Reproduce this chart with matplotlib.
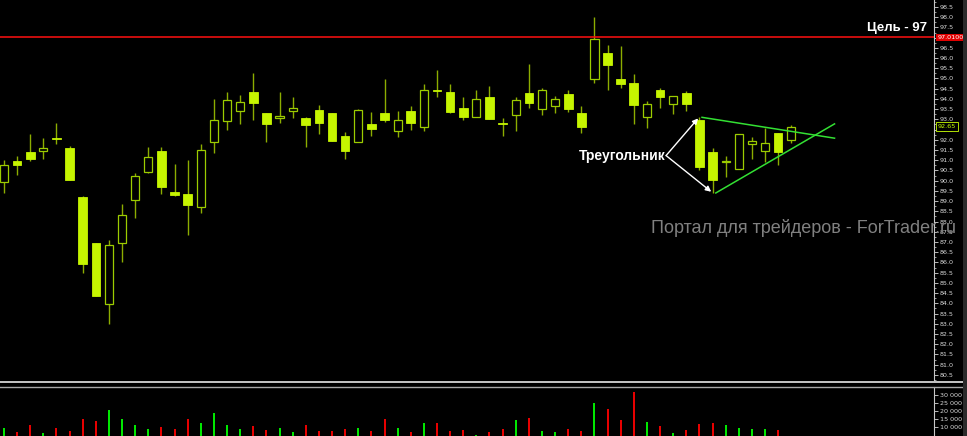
import numpy as np
import matplotlib
matplotlib.use('Agg')
import matplotlib.pyplot as plt
import matplotlib.transforms as mtransforms
from matplotlib.lines import Line2D
from matplotlib.patches import Rectangle
from matplotlib.ticker import MultipleLocator

# OHLC (daily candles)
opens = [89.92, 90.97, 91.42, 91.44, 92.09, 91.60, 89.20, 86.95, 83.96, 86.94,
         89.04, 90.43, 91.46, 89.45, 89.35, 88.73, 91.88, 92.92, 93.43, 94.36,
         93.30, 93.06, 93.43, 93.07, 93.46, 93.31, 92.19, 91.88, 92.78, 93.31,
         92.43, 93.43, 92.64, 94.44, 94.34, 93.56, 93.13, 94.08, 92.81, 93.20,
         94.28, 93.52, 93.64, 94.24, 93.31, 94.96, 96.26, 94.96, 94.77, 93.10,
         94.44, 93.74, 94.29, 92.97, 91.42, 90.92, 90.56, 91.81, 91.44, 92.32, 91.99]
highs = [91.01, 91.20, 92.29, 92.08, 92.83, 91.70, 89.25, 86.97, 87.10, 88.88,
         90.38, 91.65, 91.64, 90.82, 91.01, 91.80, 94.00, 94.34, 94.21, 95.27,
         93.30, 94.36, 94.08, 93.12, 93.71, 93.31, 92.38, 93.51, 93.36, 94.98,
         93.41, 93.66, 94.73, 95.40, 94.72, 94.10, 94.42, 94.64, 93.06, 94.10,
         95.70, 94.52, 94.13, 94.42, 93.66, 98.03, 96.64, 96.59, 95.21, 93.90,
         94.54, 94.13, 94.39, 93.10, 91.59, 91.23, 92.27, 92.15, 92.60, 92.32, 92.73]
lows = [89.39, 90.30, 90.98, 91.08, 91.81, 90.05, 85.47, 84.34, 82.98, 86.03,
        88.19, 90.40, 89.37, 89.27, 87.36, 88.44, 91.37, 92.50, 92.79, 92.97,
        91.91, 92.84, 93.07, 91.67, 92.29, 91.93, 91.08, 91.88, 92.19, 92.86,
        92.14, 92.48, 92.45, 94.11, 93.33, 92.99, 93.13, 93.01, 92.20, 92.43,
        93.57, 93.23, 93.33, 93.36, 92.35, 94.77, 94.44, 94.55, 92.79, 92.57,
        93.57, 93.28, 93.41, 90.53, 89.42, 90.20, 90.56, 91.08, 90.92, 90.76, 91.83]
closes = [90.76, 90.79, 91.08, 91.59, 92.06, 90.05, 85.94, 84.38, 86.84, 88.31,
          90.22, 91.15, 89.68, 89.32, 88.80, 91.50, 92.96, 93.94, 93.85, 93.79,
          92.79, 93.15, 93.54, 92.74, 92.81, 91.93, 91.47, 93.46, 92.52, 92.99,
          92.96, 92.84, 94.42, 94.41, 93.36, 93.13, 93.98, 93.01, 92.78, 93.94,
          93.79, 94.42, 93.98, 93.52, 92.64, 96.92, 95.65, 94.75, 93.72, 93.74,
          94.11, 94.13, 93.77, 90.69, 90.02, 90.95, 92.27, 91.94, 91.86, 91.42, 92.65]
volumes = [9100, 6600, 11000, 5900, 9100, 7200, 14700, 13600, 20400, 14900,
           11000, 8300, 9800, 8500, 14900, 12100, 18700, 11000, 8500, 10400,
           7900, 9100, 6600, 11000, 7200, 7200, 8500, 9100, 7200, 14900,
           9100, 6600, 12300, 12100, 7200, 7900, 4700, 6600, 8500, 14000,
           15500, 7200, 6600, 8500, 7200, 25100, 21300, 14200, 32100, 13000,
           10400, 5900, 7900, 11700, 12300, 11000, 9100, 8500, 8500, 7900, 3000]

target = 97.01
last_price = 92.65

# triangle trend lines (bar index, price)
tri_upper_x = [53.2, 63.3]
tri_upper_y = [93.10, 92.08]
tri_lower_x = [54.25, 63.3]
tri_lower_y = [89.40, 92.78]

price_ticks = np.arange(80.5, 98.51, 0.5)
vol_ticks = [10000, 15000, 20000, 25000, 30000]

o = np.array(opens); h = np.array(highs); l = np.array(lows); c = np.array(closes)
v = np.array(volumes)
x = np.arange(len(c))
up = c >= o

W, H = 967, 436
fig = plt.figure(figsize=(W / 100, H / 100), dpi=100, facecolor='black')
fx = lambda px: px / W
fy = lambda py: 1 - py / H

ax = fig.add_axes([0, fy(380), fx(934), 380 / H], facecolor='black')
axv = fig.add_axes([0, 0, fx(934), (436 - 387) / H], facecolor='black')

# ── candles ──
ax.vlines(x, l, h, colors='#8cad00', linewidth=1.0, zorder=2)
body_lo = np.minimum(o, c)
body_h = np.maximum(np.abs(c - o), 0.005)
ax.bar(x[up], body_h[up], bottom=body_lo[up], width=0.62,
       facecolor='black', edgecolor='#9ccc00', linewidth=0.9, zorder=3)
ax.bar(x[~up], body_h[~up], bottom=body_lo[~up], width=0.66,
       facecolor='#c6f500', edgecolor='#c6f500', linewidth=0.6, zorder=3)

ax.set_xlim(-0.305, 70.88)
ax.set_ylim(80.25, 98.84)

# target line
ax.axhline(target, color='#ff1010', linewidth=1.1, zorder=4)
ax.text(0.993, 97.47, 'Цель - 97', transform=mtransforms.blended_transform_factory(ax.transAxes, ax.transData),
        ha='right', va='center', color='white', fontsize=9.5, fontweight='bold',
        family='Liberation Sans', zorder=5)

# triangle
ax.plot(tri_upper_x, tri_upper_y, color='#33e033', linewidth=1.1, zorder=5)
ax.plot(tri_lower_x, tri_lower_y, color='#33e033', linewidth=1.1, zorder=5)
ax.text(50.4, 91.23, 'Треугольник', ha='right', va='center', color='white',
        fontsize=10, fontweight='bold', family='Liberation Sans', zorder=6)
for tip in [(52.9, 93.05), (53.9, 89.46)]:
    ax.annotate('', xy=tip, xytext=(50.46, 91.23),
                arrowprops=dict(arrowstyle='-|>', color='white', lw=1.0,
                                mutation_scale=8, shrinkA=0, shrinkB=0), zorder=6)

# price axis on the right
for s in ['left', 'top', 'bottom']:
    ax.spines[s].set_visible(False)
ax.spines['right'].set_color('#c8c8c8')
ax.spines['right'].set_linewidth(0.8)
ax.yaxis.tick_right()
ax.set_yticks(price_ticks)
ax.set_yticklabels([f'{t:.1f}' for t in price_ticks])
ax.yaxis.set_minor_locator(MultipleLocator(0.25))
ax.tick_params(axis='y', which='major', colors='#d8d8d8', labelsize=4.6, length=3, width=0.6, pad=1)
ax.tick_params(axis='y', which='minor', colors='#d8d8d8', length=1.5, width=0.5)
ax.set_xticks([])

tr = mtransforms.blended_transform_factory(ax.transAxes, ax.transData)
ax.text(1.004, target, '97.0100', transform=tr, ha='left', va='center', color='white',
        fontsize=4.6, clip_on=False, zorder=7,
        bbox=dict(boxstyle='square,pad=0.2', fc='#e00000', ec='none'))
ax.text(1.004, last_price, f'{last_price:.2f}', transform=tr, ha='left', va='center', color='#c8ff00',
        fontsize=4.6, clip_on=False, zorder=7,
        bbox=dict(boxstyle='square,pad=0.25', fc='black', ec='#c8ff00', lw=0.6))

# ── volumes ──
vol_col = np.where(up, '#00ee00', '#ee0000')
axv.vlines(x, 0, v, colors=vol_col, linewidth=1.4)
axv.set_xlim(-0.305, 70.88)
axv.set_ylim(4023, 35313)
for s in ['left', 'top', 'bottom']:
    axv.spines[s].set_visible(False)
axv.spines['right'].set_color('#c8c8c8')
axv.spines['right'].set_linewidth(0.8)
axv.yaxis.tick_right()
axv.set_yticks(vol_ticks)
axv.set_yticklabels([f'{t:,}'.replace(',', ' ') for t in vol_ticks])
axv.tick_params(axis='y', colors='#d8d8d8', labelsize=4.6, length=3, width=0.6, pad=1)
axv.set_xticks([])

# separators and right strip
fig.add_artist(Line2D([0, fx(963)], [fy(382.3)] * 2, color='#e8e8e8', linewidth=1.2))
fig.add_artist(Line2D([0, fx(963)], [fy(387)] * 2, color='#a8a8a8', linewidth=1.0))
fig.add_artist(Rectangle((fx(963), 0), fx(4), 1, transform=fig.transFigure,
                         facecolor='#2b2b2b', edgecolor='none', zorder=2))

fig.text(fx(651), fy(228), 'Портал для трейдеров - ForTrader.ru', ha='left', va='center',
         color='#808080', fontsize=13, family='Liberation Sans', zorder=3)

fig.savefig('out.png', dpi=100, facecolor='black')
